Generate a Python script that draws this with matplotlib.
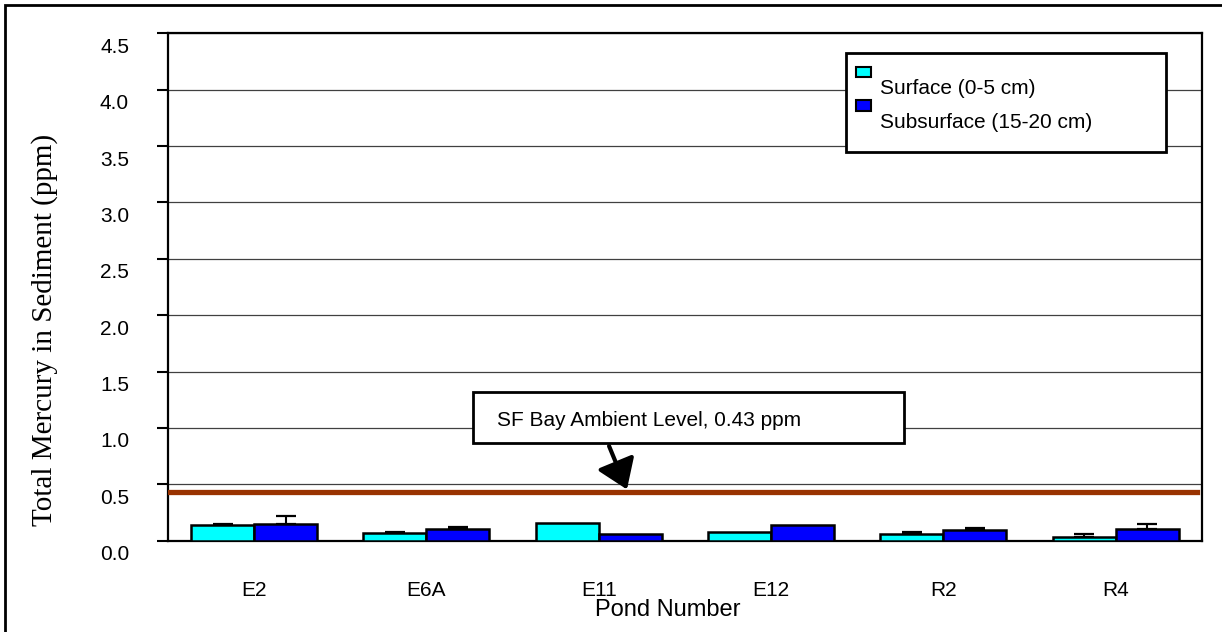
import numpy as np
import matplotlib
matplotlib.use("Agg")
from matplotlib import pyplot as plt
from matplotlib.patches import Rectangle, FancyArrowPatch
from matplotlib import transforms

plt.rcParams['font.family'] = ['Liberation Sans', 'DejaVu Sans']

# Data
ponds = ["E2", "E6A", "E11", "E12", "R2", "R4"]
surface = [0.135, 0.07, 0.16, 0.075, 0.055, 0.035]
surface_err = [0.015, 0.008, 0.0, 0.0, 0.018, 0.02]
subsurface = [0.15, 0.105, 0.055, 0.14, 0.095, 0.105]
subsurface_err = [0.065, 0.015, 0.0, 0.0, 0.015, 0.045]
ambient_level = 0.43
yticks = [0.0, 0.5, 1.0, 1.5, 2.0, 2.5, 3.0, 3.5, 4.0, 4.5]

W, H = 1222, 632


def px(x, y):
    # pixel position (from top-left) -> figure fraction
    return x / W, 1 - y / H


fig = plt.figure(figsize=(W / 100, H / 100), dpi=100)
left, top, right, bottom = 168, 33.3, 1201.7, 540.7
ax = fig.add_axes([left / W, 1 - bottom / H, (right - left) / W, (bottom - top) / H])

x = np.arange(len(ponds))
bw = 0.366
ax.bar(x - bw / 2, surface, bw, color='#00FFFF', edgecolor='black', linewidth=1.8, zorder=3)
ax.bar(x + bw / 2, subsurface, bw, color='#0000FF', edgecolor='black', linewidth=1.8, zorder=3)

# upper error bars only, where there is one
for offs, vals, errs in [(-bw / 2, surface, surface_err), (bw / 2, subsurface, subsurface_err)]:
    vals = np.array(vals)
    errs = np.array(errs)
    m = errs > 0
    ax.errorbar(x[m] + offs, vals[m], yerr=[np.zeros(m.sum()), errs[m]], fmt='none',
                ecolor='black', elinewidth=1.5, capsize=7, capthick=1.6, zorder=2)

ax.plot([-0.49, 5.47], [ambient_level, ambient_level], color='#993300', linewidth=3.8, zorder=4)

ax.set_xlim(-0.5, 5.5)
ax.set_ylim(0, 4.5)
ax.set_yticks(yticks)
ax.set_yticklabels([f"{v:.1f}" for v in yticks], fontsize=15)
ax.set_xticks(x)
ax.set_xticklabels(ponds, fontsize=15)
ax.tick_params(axis='x', length=0, pad=29)
ax.tick_params(axis='y', direction='out', length=8, width=1.5, pad=20)
ax.yaxis.grid(True, color='#404040', linewidth=0.9, zorder=0)
ax.set_axisbelow(True)
for s in ax.spines.values():
    s.set_linewidth(1.6)
    s.set_color('black')

# Excel style: y labels sit a bit below their ticks
shift = transforms.ScaledTranslation(0, -12 / 100, fig.dpi_scale_trans)
for lab in ax.get_yticklabels():
    lab.set_transform(lab.get_transform() + shift)

ax.set_xlabel("Pond Number", fontsize=17)
ax.xaxis.set_label_coords(0.483, -0.115)
fig.text(*px(45, 330), "Total Mercury in Sediment (ppm)", rotation=90, ha='center', va='center',
         fontsize=21, family='Liberation Serif')

# legend box drawn by hand to keep the Excel layout
lx0, ly0, lx1, ly1 = 846, 53.3, 1165.7, 151.7
fig.patches.append(Rectangle(px(lx0, ly1), (lx1 - lx0) / W, (ly1 - ly0) / H, transform=fig.transFigure,
                             facecolor='white', edgecolor='black', linewidth=2, zorder=5))
for yy, col, lab, ty in [(66.7, '#00FFFF', "Surface (0-5 cm)", 89), (100, '#0000FF', "Subsurface (15-20 cm)", 122)]:
    fig.patches.append(Rectangle(px(856, yy + 10.5), 14.7 / W, 10.5 / H, transform=fig.transFigure,
                                 facecolor=col, edgecolor='black', linewidth=1.5, zorder=6))
    fig.text(*px(880, ty), lab, fontsize=15, va='center', ha='left', zorder=6)

# annotation box + arrow
bx0, by0, bx1, by1 = 472.7, 391.7, 904, 443.3
fig.patches.append(Rectangle(px(bx0, by1), (bx1 - bx0) / W, (by1 - by0) / H, transform=fig.transFigure,
                             facecolor='white', edgecolor='black', linewidth=2, zorder=5))
fig.text(*px(497, 420), "SF Bay Ambient Level, 0.43 ppm", fontsize=15, va='center', ha='left', zorder=6)
fig.patches.append(FancyArrowPatch(px(608, 443.5), px(628, 492), transform=fig.transFigure,
                                   arrowstyle='-|>,head_length=0.8,head_width=0.55', mutation_scale=22,
                                   color='black', linewidth=3, zorder=6))

# outer chart border (right and bottom edges fall outside the picture)
fig.patches.append(Rectangle(px(5, 650), (1240 - 5) / W, (650 - 5) / H, transform=fig.transFigure,
                             fill=False, edgecolor='black', linewidth=2, clip_on=False))

fig.savefig("out.png", dpi=100)
